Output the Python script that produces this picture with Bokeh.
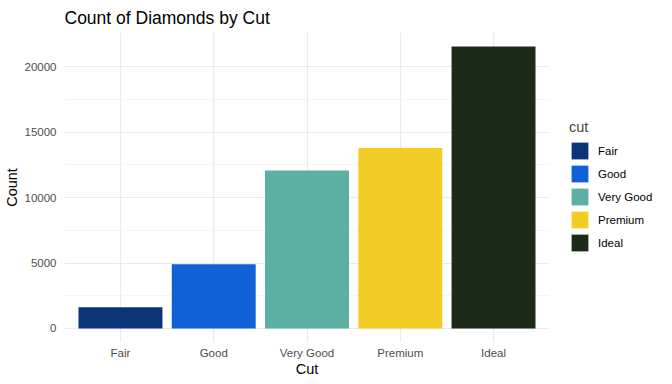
from bokeh.plotting import figure
from bokeh.layouts import row
from bokeh.models import (ColumnDataSource, Range1d, FixedTicker, Legend, LegendItem, Title)
from bokeh.embed import file_html
from bokeh.resources import INLINE

cuts = ["Fair", "Good", "Very Good", "Premium", "Ideal"]
counts = [1610, 4906, 12082, 13791, 21551]
colors = ["#0C3278", "#1060D8", "#5BAFA3", "#F2CD26", "#1B2B17"]
y_ticks = [0, 5000, 10000, 15000, 20000]
y_minor = [2500, 7500, 12500, 17500]

xs = list(range(1, len(cuts) + 1))
src = ColumnDataSource(dict(x=xs, count=counts, cut=cuts, color=colors))

ymax = max(counts)
pad = ymax * 0.05
FONT = "Liberation Sans"

p = figure(frame_width=485, frame_height=310, output_backend="svg", toolbar_location=None,
           x_range=Range1d(0.4, len(cuts) + 0.6), y_range=Range1d(-pad, ymax + pad),
           min_border_left=55, min_border_right=0, min_border_bottom=34, min_border_top=10)
p.outline_line_color = None
p.background_fill_color = "white"
p.border_fill_color = "white"

p.title = Title(text="Count of Diamonds by Cut", text_font=FONT, text_font_size="17.5px",
                text_font_style="normal", text_color="black", offset=0, standoff=10)

r = p.vbar(x="x", top="count", width=0.9, fill_color="color", line_color=None, source=src)

# axes
p.xaxis.ticker = FixedTicker(ticks=xs, minor_ticks=[])
p.xaxis.major_label_overrides = {x: c for x, c in zip(xs, cuts)}
p.yaxis.ticker = FixedTicker(ticks=y_ticks, minor_ticks=y_minor)
for ax in (p.xaxis[0], p.yaxis[0]):
    ax.axis_line_color = None
    ax.major_tick_line_color = None
    ax.minor_tick_line_color = None
    ax.major_tick_out = 0
    ax.major_tick_in = 0
    ax.minor_tick_out = 0
    ax.major_label_text_font = FONT
    ax.major_label_text_font_size = "11.5px"
    ax.major_label_text_color = "#4D4D4D"
    ax.axis_label_text_font = FONT
    ax.axis_label_text_font_size = "14.5px"
    ax.axis_label_text_font_style = "normal"
    ax.axis_label_text_color = "black"
p.xaxis.axis_label = "Cut"
p.yaxis.axis_label = "Count"
p.xaxis.major_label_standoff = 4
p.xaxis.axis_label_standoff = -1
p.yaxis.major_label_standoff = 8
p.yaxis.axis_label_standoff = 2
p.yaxis.formatter.use_scientific = False

p.xgrid.grid_line_color = "#EBEBEB"
p.xgrid.grid_line_width = 1.2
p.ygrid.grid_line_color = "#EBEBEB"
p.ygrid.grid_line_width = 1.2
p.ygrid.minor_grid_line_color = "#F2F2F2"
p.ygrid.minor_grid_line_width = 0.8

# legend panel: a small figure that holds the legend (its own renderer is off-range)
p2 = figure(frame_width=116, frame_height=310, output_backend="svg", toolbar_location=None,
            x_range=Range1d(-10, -9), y_range=Range1d(-10, -9), min_border=0)
p2.axis.visible = False
p2.grid.visible = False
p2.outline_line_color = None
p2.border_fill_color = "white"
r2 = p2.vbar(x="x", top="count", width=0.9, fill_color="color", line_color=None, source=src)

items = [LegendItem(label=c, renderers=[r2], index=i) for i, c in enumerate(cuts)]
legend = Legend(items=items, title="cut", location=(20, 57),
                glyph_width=21, glyph_height=21, label_height=21, spacing=2,
                label_standoff=8, padding=0, margin=0, border_line_color=None,
                background_fill_alpha=0,
                label_text_font=FONT, label_text_font_size="11.5px", label_text_color="black",
                title_text_font=FONT, title_text_font_size="14.5px", title_text_font_style="normal",
                title_standoff=5)
p2.add_layout(legend, "center")

layout = row(p, p2)
open("out.html", "w").write(file_html(layout, INLINE))
